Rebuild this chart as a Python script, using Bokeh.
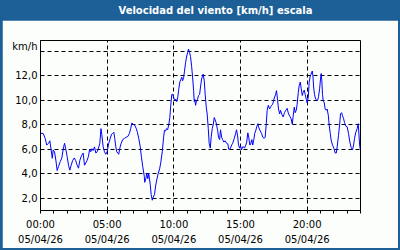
from bokeh.plotting import figure
from bokeh.layouts import column
from bokeh.models import FixedTicker, Range1d, Label
from bokeh.embed import file_html
from bokeh.resources import INLINE

# time of day in minutes since 00:00 (05/04/26)
minutes = [
    0, 3, 12, 21, 28, 36, 42, 48, 53, 57,
    63, 69, 75, 81, 89, 96, 102, 108, 114, 120,
    126, 132, 138, 145, 152, 158, 165, 171, 177, 185,
    192, 198, 204, 210, 216, 221, 226, 231, 237, 243,
    249, 255, 261, 267, 272, 276, 282, 288, 294, 300,
    307, 314, 320, 325, 330, 334, 339, 343, 348, 352,
    357, 363, 370, 378, 386, 393, 400, 406, 411, 417,
    423, 431, 436, 442, 449, 454, 460, 467, 469, 474,
    478, 483, 487, 494, 498, 503, 507, 513, 518, 523,
    530, 536, 541, 548, 554, 558, 563, 567, 572, 577,
    582, 586, 591, 595, 600, 604, 609, 613, 618, 622,
    627, 631, 636, 639, 644, 648, 653, 657, 662, 666,
    671, 675, 680, 684, 689, 692, 694, 698, 702, 707,
    711, 716, 720, 725, 729, 732, 737, 741, 746, 750,
    755, 759, 764, 768, 773, 777, 782, 786, 790, 797,
    801, 806, 810, 815, 819, 825, 831, 837, 843, 847,
    854, 860, 865, 872, 878, 882, 887, 891, 896, 900,
    905, 909, 914, 918, 924, 928, 933, 937, 942, 946,
    951, 955, 960, 964, 969, 973, 978, 982, 989, 995,
    1000, 1007, 1011, 1016, 1020, 1025, 1031, 1035, 1040, 1045,
    1052, 1058, 1062, 1067, 1071, 1076, 1080, 1086, 1092, 1098,
    1104, 1110, 1116, 1122, 1128, 1133, 1137, 1142, 1146, 1151,
    1155, 1160, 1164, 1169, 1173, 1178, 1182, 1187, 1191, 1196,
    1200, 1205, 1209, 1214, 1218, 1223, 1226, 1229, 1233, 1238,
    1242, 1247, 1251, 1256, 1260, 1263, 1266, 1269, 1272, 1277,
    1281, 1286, 1290, 1295, 1299, 1304, 1308, 1314, 1320, 1326,
    1331, 1335, 1341, 1346, 1350, 1355, 1359, 1364, 1368, 1374,
    1380, 1386, 1392, 1398, 1404, 1409, 1413, 1419, 1425, 1430,
    1432, 1436, 1439,
]

# wind speed, km/h
speed = [
    7.4, 7.3, 7.3, 6.9, 6.35, 6.5, 6.7, 5.95, 5.27, 5.95,
    5.8, 5.13, 4.27, 4.6, 5.0, 5.3, 6.0, 6.5, 6.0, 5.4,
    4.7, 4.3, 4.7, 5.1, 5.3, 5.1, 4.7, 4.46, 5.1, 5.5,
    5.7, 4.7, 4.9, 5.1, 5.45, 6.0, 5.8, 6.05, 5.9, 6.2,
    5.7, 5.8, 6.1, 6.5, 7.7, 7.2, 6.2, 5.8, 5.6, 5.8,
    6.5, 6.9, 7.24, 7.3, 7.4, 6.9, 6.2, 5.8, 5.7, 5.6,
    6.1, 6.5, 6.8, 6.9, 7.0, 7.05, 7.3, 7.7, 8.15, 8.05,
    8.0, 7.7, 7.4, 6.9, 6.2, 5.4, 4.6, 3.8, 3.3, 3.6,
    4.05, 3.6, 4.05, 3.1, 2.3, 1.84, 2.1, 2.3, 3.0, 3.5,
    4.05, 4.4, 4.9, 5.8, 7.0, 7.56, 7.5, 7.7, 7.6, 8.0,
    8.6, 9.6, 10.5, 10.5, 10.2, 10.0, 10.1, 9.9, 10.3, 10.9,
    11.5, 11.7, 11.9, 11.6, 11.85, 12.4, 13.1, 13.55, 13.9, 14.2,
    13.9, 13.6, 12.8, 12.0, 10.8, 9.9, 10.1, 9.6, 10.0, 10.1,
    10.4, 10.5, 11.1, 11.75, 12.0, 12.15, 11.6, 10.5, 9.45, 8.9,
    7.7, 6.5, 6.1, 7.0, 7.7, 8.0, 8.6, 8.4, 8.2, 7.56,
    7.0, 6.8, 7.6, 7.0, 6.8, 6.6, 6.7, 6.5, 6.45, 6.0,
    6.05, 6.35, 6.5, 6.9, 7.3, 7.6, 7.1, 6.35, 6.1, 6.3,
    5.95, 6.2, 6.2, 6.1, 6.35, 6.6, 7.35, 7.0, 6.35, 6.45,
    6.8, 6.35, 6.8, 7.3, 7.56, 7.85, 8.1, 7.8, 7.5, 7.3,
    7.0, 6.9, 7.0, 8.1, 9.2, 9.6, 9.3, 9.45, 9.6, 9.7,
    10.2, 10.5, 10.8, 10.0, 9.3, 8.9, 9.2, 8.85, 8.65, 9.0,
    9.2, 9.35, 8.9, 8.7, 8.5, 8.05, 8.7, 9.45, 9.0, 9.2,
    9.7, 10.65, 11.2, 11.5, 11.0, 10.4, 10.65, 10.85, 10.5, 10.1,
    9.8, 10.25, 11.5, 12.0, 12.15, 12.4, 12.0, 11.1, 10.5, 10.1,
    10.05, 10.0, 10.3, 10.95, 11.75, 12.2, 11.6, 10.5, 10.0, 9.8,
    9.3, 9.2, 9.3, 8.8, 8.0, 7.3, 6.75, 6.35, 6.1, 5.7,
    5.7, 6.2, 7.15, 8.0, 8.9, 9.0, 8.75, 8.5, 8.2, 7.9,
    7.85, 7.3, 6.6, 6.15, 5.95, 6.35, 6.9, 7.4, 7.7, 8.1,
    7.5, 6.35, 6.0,
]

x_label_minutes = [0, 300, 600, 900, 1200]
x_label_times = ["00:00", "05:00", "10:00", "15:00", "20:00"]
x_label_dates = ["05/04/26", "05/04/26", "05/04/26", "05/04/26", "05/04/26"]
y_grid_values = [2, 4, 6, 8, 10, 12, 14]
y_tick_values = [2, 4, 6, 8, 10, 12, 14, 14.4]
y_tick_labels = ["2,0", "4,0", "6,0", "8,0", "10,0", "12,0", "", "km/h"]
title_text = "Velocidad del viento [km/h] escala"

BLUE = "#1d5f97"
PAPER = "#fcfefc"
FONT = "DejaVu Sans"

# ---- title bar ----
head = figure(width=400, height=20, output_backend="svg", toolbar_location=None,
              x_range=Range1d(0, 400), y_range=Range1d(0, 20),
              min_border=0, min_border_left=0, min_border_right=0,
              min_border_top=0, min_border_bottom=0)
head.axis.visible = False
head.grid.visible = False
head.outline_line_color = None
head.background_fill_color = BLUE
head.border_fill_color = BLUE
head.add_layout(Label(x=216, y=10.5, text=title_text,
                      text_align="center", text_baseline="middle",
                      text_color="white", text_font=FONT, text_font_style="bold",
                      text_font_size="10px"))

# ---- chart ----
p = figure(width=396, height=228, output_backend="svg", toolbar_location=None,
           x_range=Range1d(0, 1440), y_range=Range1d(1.0, 14.9),
           min_border_left=38, min_border_right=38,
           min_border_top=20, min_border_bottom=38)
p.border_fill_color = PAPER
p.background_fill_color = PAPER
p.outline_line_color = "black"
p.outline_line_width = 1

hour_ticks = list(range(0, 1441, 60))
p.xaxis.ticker = FixedTicker(ticks=hour_ticks)
overrides = {t: "" for t in hour_ticks}
for m, t, d in zip(x_label_minutes, x_label_times, x_label_dates):
    overrides[m] = t + "\n" + d
p.xaxis.major_label_overrides = overrides
p.xaxis.major_tick_in = 0
p.xaxis.major_tick_out = 3
p.xaxis.minor_tick_line_color = None
p.xaxis.axis_line_color = "black"
p.xaxis.major_tick_line_color = "black"
p.xaxis.major_label_standoff = 5
p.xaxis.major_label_text_line_height = 1.4
p.xaxis.major_label_text_font = FONT
p.xaxis.major_label_text_font_size = "10px"
p.xaxis.major_label_text_color = "black"

p.yaxis.ticker = FixedTicker(ticks=y_tick_values)
p.yaxis.major_label_overrides = dict(zip(y_tick_values, y_tick_labels))
p.yaxis.major_tick_in = 0
p.yaxis.major_tick_out = 0
p.yaxis.minor_tick_line_color = None
p.yaxis.axis_line_color = "black"
p.yaxis.major_label_standoff = 3
p.yaxis.major_label_text_font = FONT
p.yaxis.major_label_text_font_size = "10px"
p.yaxis.major_label_text_color = "black"

p.xgrid.ticker = FixedTicker(ticks=[300, 600, 900, 1200])
p.ygrid.ticker = FixedTicker(ticks=y_grid_values)
for g in (p.xgrid, p.ygrid):
    g.grid_line_color = "black"
    g.grid_line_dash = "4 3"
    g.grid_line_width = 1
    g.grid_line_alpha = 1.0

p.line(minutes, speed, line_color="#0000ff", line_width=1)

page = column(head, p, spacing=0,
              styles={"background-color": BLUE, "padding": "0px 2px 2px 2px"})

open("out.html", "w").write(file_html(page, INLINE))
